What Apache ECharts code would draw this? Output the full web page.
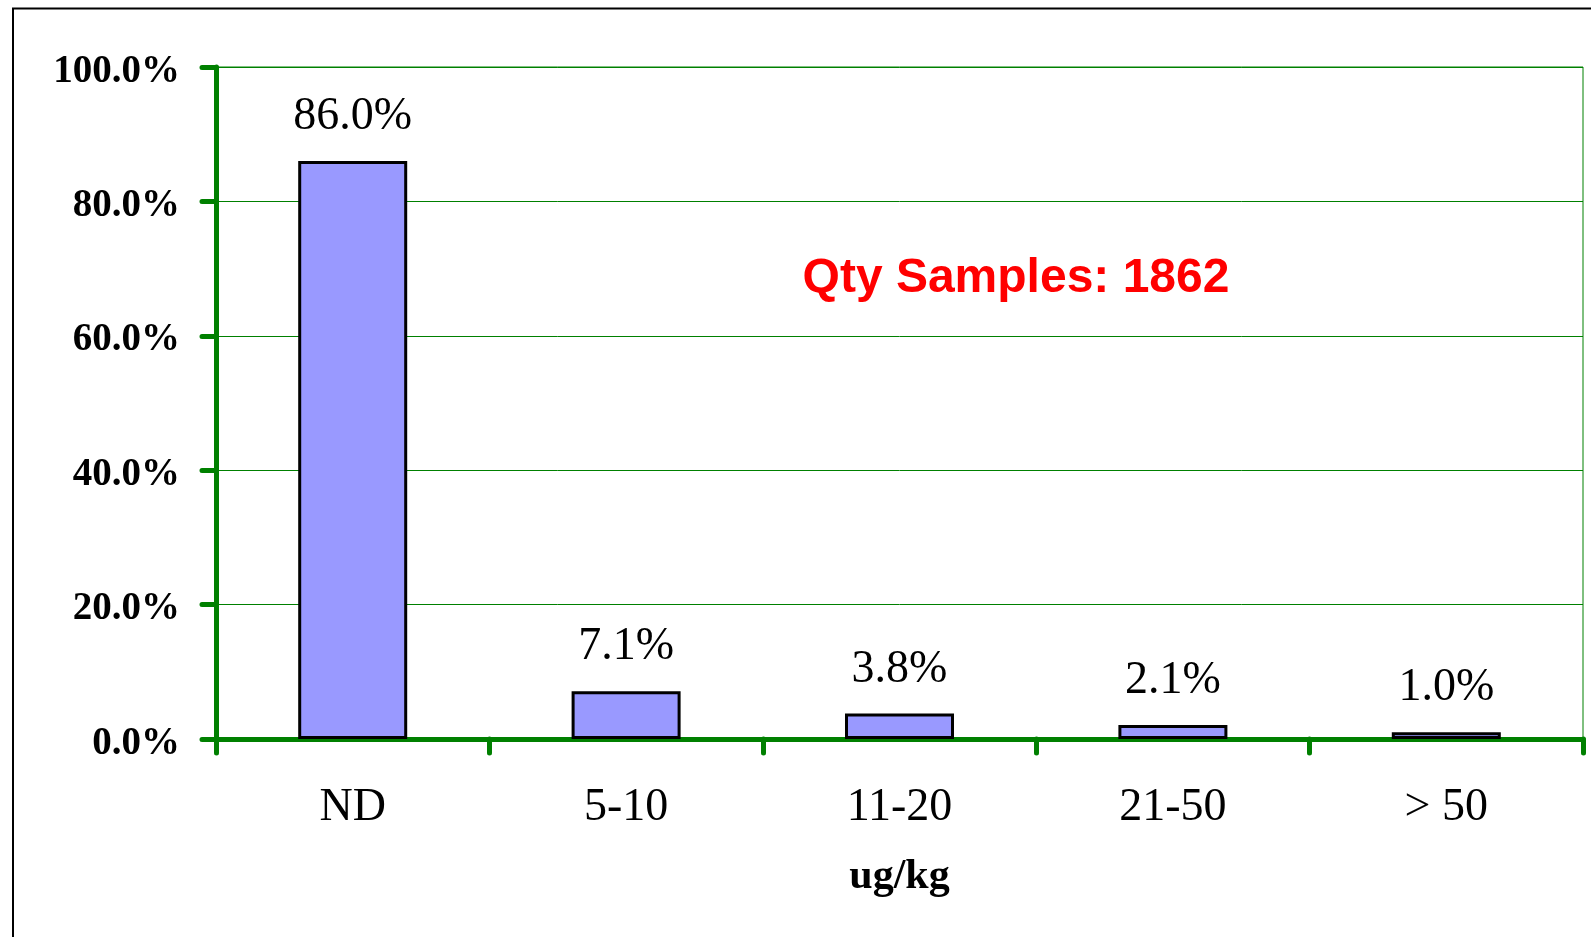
<!DOCTYPE html>
<html>
<head>
<meta charset="utf-8">
<script src="https://cdn.jsdelivr.net/npm/echarts@6/dist/echarts.min.js"></script>
<style>
html,body{margin:0;padding:0;background:#fff;}
#chart{width:1591px;height:937px;}
</style>
</head>
<body>
<div id="chart"></div>
<script>
var categories = ['ND', '5-10', '11-20', '21-50', '> 50'];
var percentValues = [86.0, 7.1, 3.8, 2.1, 1.0];
var yTicks = [0, 20, 40, 60, 80, 100];
var axisName = 'ug/kg';
var noteText = 'Qty Samples: 1862';

var chart = echarts.init(document.getElementById('chart'), null, {renderer: 'canvas'});
var green = '#008000';
var serif = '"Liberation Serif", "Times New Roman", serif';
var option = {
  backgroundColor: '#ffffff',
  animation: false,
  grid: {
    left: 216, right: 8, top: 67, bottom: 198,
    show: true, borderColor: green, borderWidth: 1, backgroundColor: 'transparent'
  },
  graphic: [
    {
      type: 'rect', silent: true, z: -1,
      shape: {x: 13, y: 8.5, width: 1700, height: 1100},
      style: {fill: 'none', stroke: '#000', lineWidth: 2}
    },
    {
      type: 'text', x: 1016, y: 279, z: 10,
      style: {
        text: noteText, fill: '#ff0000', align: 'center', verticalAlign: 'middle',
        font: 'bold 48px "Liberation Sans", Arial, sans-serif'
      }
    }
  ],
  xAxis: {
    type: 'category',
    data: categories,
    name: axisName,
    nameLocation: 'middle',
    nameGap: 117,
    nameTextStyle: {fontFamily: serif, fontWeight: 'bold', fontSize: 42, color: '#000'},
    axisLine: {show: true, lineStyle: {color: green, width: 5, cap: 'round'}},
    axisTick: {show: true, length: 14, lineStyle: {color: green, width: 5, cap: 'round'}},
    axisLabel: {margin: 46, fontFamily: serif, fontSize: 46, color: '#000'},
    splitLine: {show: false}
  },
  yAxis: {
    type: 'value',
    min: 0, max: 100, interval: 20,
    axisLine: {show: true, lineStyle: {color: green, width: 5, cap: 'round'}},
    axisTick: {show: true, length: 14, lineStyle: {color: green, width: 5, cap: 'round'}},
    axisLabel: {
      margin: 36,
      fontFamily: serif, fontWeight: 'bold', fontSize: 39, color: '#000',
      formatter: function (v) { return yTicks.indexOf(v) >= 0 ? '{t|' + v.toFixed(1) + '%}' : ''; },
      rich: {
        t: {fontFamily: serif, fontWeight: 'bold', fontSize: 39, color: '#000', padding: [9, 0, 0, 0]}
      }
    },
    splitLine: {show: true, lineStyle: {color: green, width: 1}}
  },
  series: [{
    type: 'bar',
    data: percentValues,
    barWidth: 109,
    itemStyle: {color: '#9999FF', borderColor: '#000', borderWidth: 3},
    label: {
      show: true, position: 'top', distance: 21,
      fontFamily: serif, fontSize: 46, color: '#000',
      formatter: function (p) { return p.value.toFixed(1) + '%'; }
    },
    z: 1
  }]
};
chart.setOption(option);
</script>
</body>
</html>
